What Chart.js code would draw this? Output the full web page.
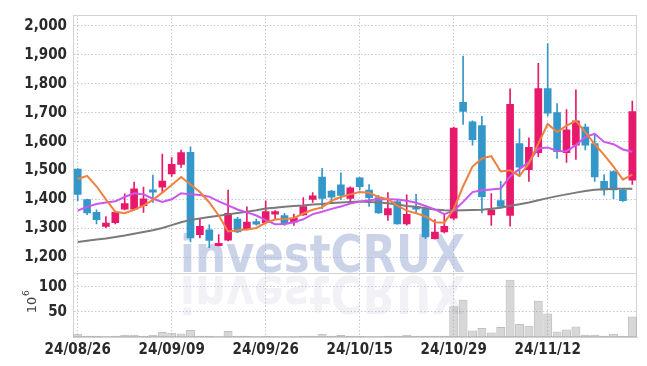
<!DOCTYPE html>
<html><head><meta charset="utf-8">
<script src="https://cdn.jsdelivr.net/npm/chart.js@4.4.1/dist/chart.umd.min.js"></script>
<style>html,body{margin:0;padding:0;background:#fff;}#wrap{width:647px;height:366px;position:relative;}</style>
</head><body><div id="wrap"><canvas id="c" width="647" height="366"></canvas></div>
<script>
const dates = ["24/08/26","24/08/27","24/08/28","24/08/29","24/08/30","24/09/02","24/09/03","24/09/04","24/09/05","24/09/06",
"24/09/09","24/09/10","24/09/11","24/09/12","24/09/13","24/09/19","24/09/20","24/09/23","24/09/24","24/09/25",
"24/09/26","24/09/27","24/09/30","24/10/02","24/10/04","24/10/07","24/10/08","24/10/10","24/10/11","24/10/14",
"24/10/15","24/10/16","24/10/17","24/10/18","24/10/21","24/10/22","24/10/23","24/10/24","24/10/25","24/10/28",
"24/10/29","24/10/30","24/10/31","24/11/01","24/11/04","24/11/05","24/11/06","24/11/07","24/11/08","24/11/11",
"24/11/12","24/11/13","24/11/14","24/11/15","24/11/18","24/11/19","24/11/20","24/11/21","24/11/22","24/11/25"];
const opens  = [1505,1400,1356,1307,1320,1367,1367,1379,1434,1443,1489,1521,1563,1279,1296,1241,1260,1333,1297,1324,1320,1350,1345,1322,1347,1401,1478,1429,1451,1404,1475,1433,1407,1347,1393,1316,1376,1367,1265,1288,1336,1736,1668,1655,1347,1397,1345,1593,1503,1562,1783,1700,1562,1588,1650,1593,1463,1497,1433,1467];
const highs  = [1507,1402,1365,1341,1360,1420,1460,1443,1485,1557,1545,1571,1582,1333,1313,1279,1433,1339,1375,1333,1396,1362,1353,1350,1407,1424,1508,1432,1492,1444,1477,1452,1415,1424,1400,1416,1418,1373,1331,1350,1650,1895,1672,1687,1421,1463,1782,1644,1613,1870,1938,1731,1711,1779,1661,1627,1486,1499,1435,1740];
const lows   = [1396,1348,1316,1303,1316,1364,1364,1356,1390,1426,1480,1511,1254,1268,1234,1240,1257,1286,1295,1312,1316,1333,1311,1311,1345,1390,1369,1392,1401,1390,1433,1376,1352,1328,1315,1312,1356,1265,1263,1285,1330,1659,1588,1354,1311,1375,1308,1480,1463,1548,1689,1542,1528,1539,1571,1463,1415,1403,1394,1452];
const closes = [1418,1354,1331,1319,1356,1386,1437,1403,1426,1464,1522,1562,1268,1308,1259,1249,1353,1288,1322,1315,1359,1359,1316,1336,1376,1413,1404,1408,1414,1441,1445,1407,1354,1369,1316,1349,1367,1271,1288,1308,1647,1704,1607,1410,1365,1376,1729,1512,1580,1783,1698,1565,1641,1672,1588,1478,1433,1433,1396,1704];
const ma5  = [1471,1482,1446,1401,1358,1353,1365,1379,1399,1424,1450,1478,1452,1426,1390,1345,1290,1294,1297,1302,1320,1331,1333,1336,1352,1365,1373,1396,1409,1418,1426,1424,1409,1401,1379,1362,1353,1342,1322,1320,1367,1446,1514,1542,1550,1497,1501,1482,1525,1593,1661,1633,1655,1672,1633,1591,1554,1514,1469,1486];
const ma20 = [1362,1375,1385,1390,1394,1409,1422,1418,1403,1392,1401,1422,1418,1416,1410,1394,1380,1366,1356,1345,1329,1315,1316,1322,1332,1350,1358,1368,1376,1386,1393,1398,1401,1401,1400,1396,1389,1378,1366,1350,1362,1392,1426,1432,1435,1438,1480,1505,1530,1576,1580,1568,1567,1588,1616,1627,1599,1591,1573,1565];
const ma60 = [1254,1258,1262,1266,1271,1276,1282,1288,1294,1302,1312,1322,1330,1335,1340,1344,1349,1354,1358,1363,1369,1372,1375,1378,1380,1383,1385,1388,1390,1392,1393,1392,1390,1387,1383,1378,1375,1370,1366,1363,1362,1363,1364,1365,1368,1372,1379,1384,1390,1398,1405,1412,1418,1424,1430,1434,1436,1437,1437,1437];
const volumes = [6.5,2.7,2.7,1.5,2.7,4.6,4.6,2.7,4.6,10,8.4,7,14,2.7,2.7,1.5,12,2.7,2.7,1.5,2.7,1.5,1,1.5,2.7,2.7,6.5,2.7,3.8,2.7,2.7,1.5,1.5,2.7,2.7,4.6,2.7,2.7,2.7,2.7,61,74,13,18,9,20,114,26,22.5,72,47,11,15,21,4.6,4.6,2.7,6.5,2.7,41];
const priceTicks = [1200,1300,1400,1500,1600,1700,1800,1900,2000];
const volTicks = [50,100];
const xTickEvery = 10;

const UP = '#e8196b', DOWN = '#3497c9';
const candleColors = opens.map((o,i)=> closes[i] >= o ? UP : DOWN);
const bodyData = opens.map((o,i)=>[o, closes[i]]);
const wickData = lows.map((l,i)=>[l, highs[i]]);

const tickFont = {family: "'Liberation Sans Narrow','DejaVu Sans Condensed',sans-serif", size: 15, weight: 'bold'};
const gridColor = '#c3c8dc';

const watermark = {
  id: 'watermark',
  beforeDatasetsDraw(chart) {
    const {ctx, chartArea} = chart;
    const yv = chart.scales.yv;
    ctx.save();
    ctx.strokeStyle = '#d2d2d2'; ctx.lineWidth = 1;
    ctx.strokeRect(chartArea.left + 0.5, chartArea.top + 0.5, chartArea.right - chartArea.left - 1, chartArea.bottom - chartArea.top - 1);
    ctx.beginPath(); ctx.moveTo(chartArea.left, Math.round(yv.top) + 0.5); ctx.lineTo(chartArea.right, Math.round(yv.top) + 0.5); ctx.stroke();
    const base = yv.top;
    ctx.font = "bold 52px 'DejaVu Sans', sans-serif";
    ctx.textBaseline = 'alphabetic';
    ctx.textAlign = 'left';
    ctx.fillStyle = 'rgba(160,175,215,0.55)';
    ctx.fillText('investCRUX', 180, base - 1, 285);
    ctx.beginPath(); ctx.rect(chartArea.left, base + 1, chartArea.right - chartArea.left, chartArea.bottom - base - 1); ctx.clip();
    ctx.translate(0, 2 * base + 2);
    ctx.scale(1, -1);
    ctx.fillStyle = 'rgba(175,180,205,0.18)';
    ctx.fillText('investCRUX', 180, base - 1, 285);
    ctx.restore();
  },
  afterDraw(chart) {
    const {ctx} = chart;
    const yv = chart.scales.yv;
    ctx.save();
    ctx.translate(33, (yv.top + yv.bottom) / 2);
    ctx.rotate(-Math.PI / 2);
    ctx.fillStyle = '#444';
    ctx.font = "13px 'DejaVu Sans', sans-serif";
    ctx.textAlign = 'center'; ctx.textBaseline = 'middle';
    ctx.fillText('10', 0, 0);
    ctx.font = "9px 'DejaVu Sans', sans-serif";
    ctx.fillText('6', 12, -6);
    ctx.restore();
  }
};

new Chart(document.getElementById('c'), {
  data: {
    labels: dates,
    datasets: [
      {type:'line', label:'MA5', data: ma5, yAxisID:'y', borderColor:'#ee8040', borderWidth:2, pointRadius:0, tension:0, order:0},
      {type:'line', label:'MA20', data: ma20, yAxisID:'y', borderColor:'#cc55ee', borderWidth:2, pointRadius:0, tension:0, order:0},
      {type:'line', label:'MA60', data: ma60, yAxisID:'y', borderColor:'#7a7a7a', borderWidth:2, pointRadius:0, tension:0, order:0},
      {type:'bar', label:'body', data: bodyData, yAxisID:'y', backgroundColor: candleColors, barThickness:7, minBarLength:2, grouped:false, order:1},
      {type:'bar', label:'wick', data: wickData, yAxisID:'y', backgroundColor: candleColors, barThickness:1, grouped:false, order:2},
      {type:'bar', label:'volume', data: volumes, yAxisID:'yv', backgroundColor:'rgba(150,150,150,0.38)', borderColor:'rgba(140,140,140,0.55)', borderWidth:1, barPercentage:0.95, categoryPercentage:1, grouped:false, order:3}
    ]
  },
  options: {
    responsive:false, animation:false,
    layout:{padding:{left:0,right:10,top:9,bottom:0}},
    plugins:{legend:{display:false}, tooltip:{enabled:false}},
    scales:{
      x:{type:'category', offset:true,
        grid:{offset:false, color:gridColor, drawTicks:false},
        border:{display:true, color:'#d2d2d2', dash:[1.5,2]},
        ticks:{autoSkip:false, maxRotation:0, padding:4, color:'#2a2a2a', font:tickFont,
          callback(v, i){ return i % xTickEvery === 0 ? dates[i] : null; }},
        afterFit(s){ s.height = 29; }
      },
      yv:{type:'linear', position:'left', stack:'p', stackWeight:65, min:0, max:127,
        grid:{color:gridColor, drawTicks:false},
        border:{display:true, color:'#d2d2d2', dash:[1.5,2]},
        ticks:{autoSkip:false, padding:6, color:'#2a2a2a', font:tickFont,
          callback(v){ return String(v); }},
        afterBuildTicks(s){ s.ticks = volTicks.map(v=>({value:v})); },
        afterFit(s){ s.width = 73; }
      },
      y:{type:'linear', position:'left', stack:'p', stackWeight:263, min:1146, max:2037,
        grid:{color:gridColor, drawTicks:false},
        border:{display:true, color:'#d2d2d2', dash:[1.5,2]},
        ticks:{autoSkip:false, padding:6, color:'#2a2a2a', font:tickFont,
          callback(v){ return v.toLocaleString('en-US'); }},
        afterBuildTicks(s){ s.ticks = priceTicks.map(v=>({value:v})); },
        afterFit(s){ s.width = 73; }
      }
    }
  },
  plugins:[watermark]
});
</script></body></html>
